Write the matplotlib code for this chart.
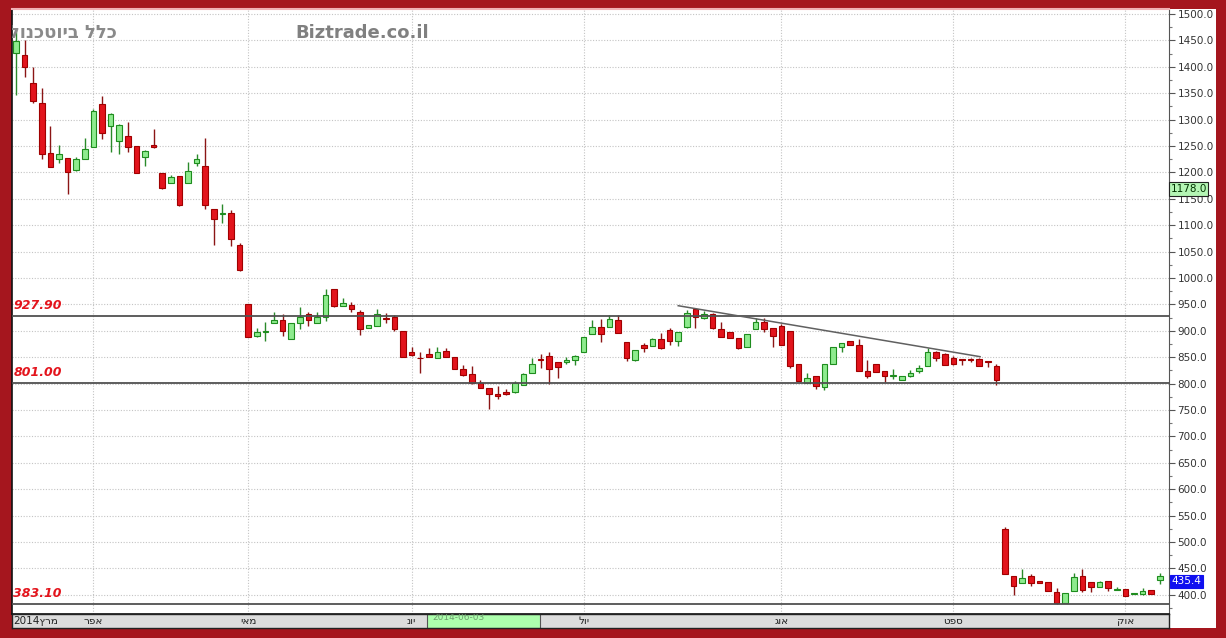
import matplotlib
matplotlib.use("Agg")
import matplotlib.pyplot as plt
from matplotlib.patches import Rectangle
from matplotlib.ticker import MultipleLocator, FormatStrFormatter

# ---------------- data ----------------
opens = [1427, 1422, 1370, 1331, 1236, 1225, 1227, 1204, 1225, 1249,
         1329, 1287, 1260, 1269, 1250, 1229, 1251, 1198, 1179, 1194,
         1179, 1217, 1213, 1130, 1122, 1124, 1062, 951, 891, 897,
         914, 920, 884, 914, 932, 915, 927, 980, 947, 949,
         935, 905, 910, 924, 927, 900, 860, 849, 856, 849,
         862, 850, 828, 818, 802, 791, 780, 785, 785, 797,
         821, 846, 852, 840, 840, 845, 859, 894, 908, 907,
         920, 879, 845, 873, 871, 884, 901, 880, 907, 941,
         925, 931, 904, 898, 886, 870, 903, 916, 906, 909,
         900, 837, 802, 814, 794, 838, 869, 881, 873, 824,
         837, 824, 814, 807, 814, 823, 833, 860, 856, 849,
         846, 846, 846, 842, 834, 524, 436, 423, 436, 427,
         425, 406, 385, 407, 436, 425, 414, 427, 410, 411,
         402, 402, 410, 428]
highs = [1470, 1450, 1400, 1359, 1287, 1252, 1227, 1229, 1266, 1320,
         1345, 1312, 1292, 1296, 1250, 1243, 1282, 1198, 1195, 1194,
         1220, 1235, 1266, 1130, 1140, 1129, 1066, 951, 906, 917,
         935, 931, 915, 945, 936, 936, 980, 980, 962, 955,
         940, 911, 941, 933, 930, 900, 870, 859, 867, 869,
         867, 850, 835, 834, 807, 791, 795, 789, 805, 821,
         848, 856, 860, 840, 850, 855, 888, 920, 922, 929,
         930, 879, 864, 877, 887, 896, 905, 897, 939, 941,
         938, 934, 917, 898, 886, 894, 924, 924, 906, 912,
         900, 837, 821, 814, 838, 869, 877, 881, 884, 845,
         837, 824, 827, 814, 826, 835, 867, 862, 858, 852,
         846, 849, 849, 842, 838, 529, 436, 448, 439, 427,
         425, 412, 404, 441, 448, 425, 427, 427, 415, 411,
         403, 413, 410, 442]
lows = [1347, 1380, 1331, 1225, 1211, 1217, 1160, 1203, 1225, 1249,
        1263, 1239, 1235, 1239, 1199, 1212, 1246, 1168, 1179, 1136,
        1179, 1212, 1130, 1062, 1105, 1060, 1014, 889, 889, 881,
        914, 891, 884, 903, 910, 915, 919, 945, 947, 935,
        892, 905, 910, 915, 900, 851, 853, 820, 850, 849,
        850, 828, 814, 800, 791, 751, 770, 778, 783, 797,
        821, 829, 799, 811, 838, 835, 859, 894, 879, 907,
        895, 843, 843, 859, 871, 865, 874, 872, 905, 905,
        923, 903, 889, 886, 865, 870, 903, 897, 870, 874,
        830, 804, 802, 789, 788, 838, 860, 873, 824, 810,
        822, 803, 808, 806, 812, 820, 833, 843, 835, 835,
        835, 840, 833, 831, 798, 439, 400, 423, 417, 422,
        407, 383.1, 385, 407, 406, 406, 414, 408, 410, 398,
        402, 400, 402, 420]
closes = [1449, 1399, 1336, 1234, 1211, 1234, 1201, 1225, 1245, 1317,
          1275, 1310, 1289, 1249, 1199, 1241, 1249, 1170, 1191, 1138,
          1203, 1225, 1138, 1111, 1124, 1073, 1016, 889, 898, 900,
          920, 900, 915, 927, 920, 927, 967, 947, 952, 941,
          903, 911, 932, 922, 903, 851, 854, 848, 850, 859,
          850, 828, 816, 802, 791, 780, 776, 780, 802, 818,
          838, 844, 827, 831, 845, 853, 888, 908, 893, 922,
          895, 849, 864, 868, 884, 868, 881, 897, 933, 927,
          931, 906, 889, 886, 868, 894, 917, 903, 891, 874,
          833, 804, 810, 795, 838, 869, 877, 873, 824, 814,
          822, 814, 816, 814, 820, 829, 860, 848, 835, 837,
          844, 845, 833, 840, 807, 439, 417, 431, 423, 422,
          407, 384, 404, 433, 409, 414, 424, 412, 411, 398,
          403, 407, 402, 436]

month_start_idx = [9, 27, 46, 66, 89, 109, 129]
month_labels = ["אפר", "מאי", "יונ", "יול", "אוג", "ספט", "אוק"]
first_label_heb = "מרץ"
first_label_year = "2014"

level_values = [927.90, 801.00, 383.10]
level_labels = ["927.90", "801.00", "383.10"]

trend_idx = [77.0, 112.1]
trend_val = [947.5, 851.0]

ref_price = 1178.0
last_price = 435.4

title_heb = "כלל ביוטכנולוגיה"
title_site = "Biztrade.co.il"
cursor_text = "2014-06-03"
cursor_span = [47.8, 60.9]


def vis(s):
    """Hebrew text in visual (left-to-right) order for matplotlib."""
    return s[::-1]


W, H = 1226, 638
BG = "#A5161E"
RED_FILL, RED_EDGE, RED_WICK = "#E2141C", "#A00000", "#8B1515"
GRN_FILL, GRN_EDGE, GRN_WICK = "#8EEB8E", "#1E8C1E", "#2A8A2A"

fig = plt.figure(figsize=(W / 100, H / 100), dpi=100, facecolor=BG)

# white right-axis panel
fig.add_artist(Rectangle((1169 / W, 10 / H), (1216 - 1169) / W, (629 - 10) / H,
                         transform=fig.transFigure, facecolor="white",
                         edgecolor="none", zorder=-1))

ax = fig.add_axes([12 / W, 24 / H, 1157 / W, 605 / H])
ax.set_facecolor("white")
n = len(opens)
ax.set_xlim(-0.47, 134.07)
ax.set_ylim(363.6, 1509.5)

# grid
ax.set_axisbelow(True)
for v in range(400, 1501, 50):
    ax.axhline(v, color="#c4c4c4", lw=0.8, ls=(0, (1, 1.5)), zorder=0)
for i in month_start_idx:
    ax.axvline(i, color="#c4c4c4", lw=0.8, ls=(0, (1, 1.5)), zorder=0)

# candles
width = 0.66
for i in range(n):
    o, h, l, c = opens[i], highs[i], lows[i], closes[i]
    up = c > o
    wick = GRN_WICK if up else RED_WICK
    fill = GRN_FILL if up else RED_FILL
    edge = GRN_EDGE if up else RED_EDGE
    ax.vlines(i, l, h, color=wick, lw=1.0, zorder=2)
    bottom = min(o, c)
    height = max(abs(c - o), 1.2)
    ax.bar(i, height, width=width, bottom=bottom, color=fill, edgecolor=edge,
           linewidth=0.8, zorder=3)

# support / resistance levels
for v, lab in zip(level_values, level_labels):
    ax.axhline(v, color="#505050", lw=1.3, zorder=4)
    ax.annotate(lab, xy=(0, v), xycoords=("axes fraction", "data"),
                xytext=(1, 3), textcoords="offset points",
                ha="left", va="bottom", color="#E3141C", fontsize=9,
                fontweight="bold", fontstyle="italic", zorder=5)

# trend line
ax.plot(trend_idx, trend_val, color="#606060", lw=1.1, zorder=4)

# titles
ax.text(0.0907, 0.960, vis(title_heb), transform=ax.transAxes, ha="right",
        va="center", fontsize=13, fontweight="bold", color="#8a8a8a",
        clip_on=True, zorder=6)
ax.text(0.2446, 0.960, title_site, transform=ax.transAxes, ha="left",
        va="center", fontsize=13, fontweight="bold", color="#808080", zorder=6)

# axes styling
ax.yaxis.tick_right()
ax.yaxis.set_major_locator(MultipleLocator(50))
ax.yaxis.set_minor_locator(MultipleLocator(25))
ax.yaxis.set_major_formatter(FormatStrFormatter("%.1f"))
ax.tick_params(axis="y", which="major", direction="out", length=4, width=0.8,
               color="#555555", labelsize=7.5, labelcolor="#333333", pad=2)
ax.tick_params(axis="y", which="minor", direction="out", length=2, width=0.8,
               color="#777777")
ax.tick_params(axis="x", which="both", bottom=False, labelbottom=False)
for s in ["left", "bottom"]:
    ax.spines[s].set_color("#111111")
    ax.spines[s].set_linewidth(1.2)
ax.spines["right"].set_color("#555555")
ax.spines["top"].set_color("#F0B0B4")
ax.spines["top"].set_linewidth(1.5)

# price tags on right axis
ax.annotate(f"{ref_price:.1f}", xy=(1.0, ref_price), xycoords=("axes fraction", "data"),
            xytext=(1, 0), textcoords="offset points", ha="left", va="top",
            fontsize=7.5, color="#003300", annotation_clip=False,
            bbox=dict(boxstyle="square,pad=0.15", facecolor="#B4F5B4",
                      edgecolor="#222222", lw=0.8))
ax.annotate(f"{last_price:.1f}", xy=(1.0, last_price), xycoords=("axes fraction", "data"),
            xytext=(2, 0), textcoords="offset points", ha="left", va="top",
            fontsize=7.5, color="white", annotation_clip=False,
            bbox=dict(boxstyle="square,pad=0.15", facecolor="#1010F0",
                      edgecolor="#1010F0", lw=0.8))

# date bar
axd = fig.add_axes([12 / W, 10 / H, 1157 / W, 14 / H])
axd.set_facecolor("#DCDCDC")
axd.set_xlim(ax.get_xlim())
axd.set_ylim(0, 1)
axd.set_xticks([])
axd.set_yticks([])
for s in axd.spines.values():
    s.set_color("#222222")
    s.set_linewidth(1.0)
axd.add_patch(Rectangle((cursor_span[0], 0), cursor_span[1] - cursor_span[0], 1,
                        facecolor="#ADFFAD", edgecolor="#555555", lw=0.8, zorder=2))
axd.text(cursor_span[0] + 0.6, 0.75, cursor_text, ha="left", va="center",
         fontsize=6.5, color="#6f9f6f", zorder=3, clip_on=True)
axd.text(-0.35, 0.5, first_label_year + vis(first_label_heb), ha="left",
         va="center", fontsize=7.5, color="#222222", zorder=3)
for i, lab in zip(month_start_idx, month_labels):
    axd.text(i, 0.5, vis(lab), ha="center", va="center", fontsize=7.5,
             color="#222222", zorder=3)

fig.savefig("out.png", dpi=100, facecolor=BG)
